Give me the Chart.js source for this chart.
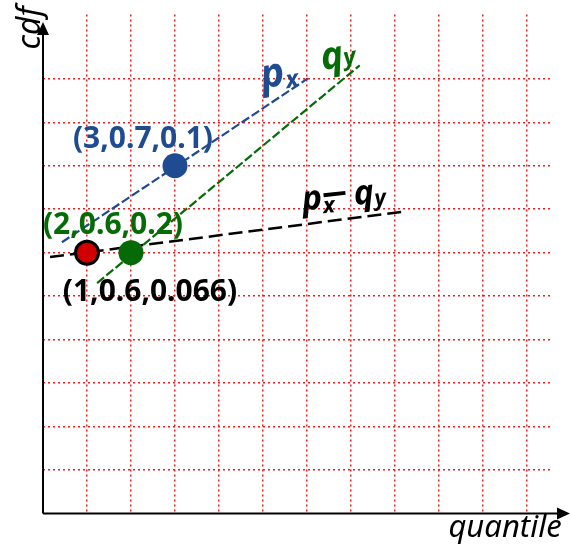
<!DOCTYPE html>
<html>
<head>
<meta charset="utf-8">
<script src="https://cdn.jsdelivr.net/npm/chart.js@4.4.1/dist/chart.umd.min.js"></script>
<style>
  html, body { margin: 0; padding: 0; background: #fff; }
  #wrap { width: 571px; height: 550px; position: relative; }
</style>
</head>
<body>
<div id="wrap"><canvas id="chart"></canvas></div>
<script>
// grid positions (in grid units)
const xGridLines = [1, 2, 3, 4, 5, 6, 7, 8, 9, 10, 11];
const yGridLines = [1, 2, 3, 4, 5, 6, 7, 8, 9, 10];

// lines: start / end points in grid units
const pxLine = [{ x: 0.43, y: 6.24 }, { x: 6.02, y: 10.01 }];
const qyLine = [{ x: 1.23, y: 5.30 }, { x: 7.20, y: 10.31 }];
const diffLine = [{ x: 0.16, y: 5.90 }, { x: 8.23, y: 6.95 }];

// the three marked points
const redPoint = [{ x: 1, y: 6 }];
const greenPoint = [{ x: 2, y: 6 }];
const bluePoint = [{ x: 3, y: 8 }];

const pointLabels = ["(1,0.6,0.066)", "(2,0.6,0.2)", "(3,0.7,0.1)"];

const BLUE = "#1f4b91";
const GREEN = "#066b06";
const RED = "#d00000";

function drawSub(ctx, parts, x, y, angle) {
  // parts: [{t, size, dx, dy, color}] or a bar {bar, w, h, dx, dy, color}
  ctx.save();
  ctx.translate(x, y);
  ctx.rotate(angle * Math.PI / 180);
  ctx.textBaseline = "alphabetic";
  ctx.textAlign = "left";
  let cx = 0;
  parts.forEach(p => {
    ctx.fillStyle = p.color;
    cx += (p.dx || 0);
    if (p.bar) {
      ctx.fillRect(cx, (p.dy || 0) - p.h / 2, p.w, p.h);
      cx += p.w;
      return;
    }
    ctx.font = "italic bold " + p.size + "px 'Noto Sans'";
    ctx.fillText(p.t, cx, p.dy || 0);
    cx += ctx.measureText(p.t).width;
  });
  ctx.restore();
}

const decorPlugin = {
  id: "decor",
  afterDatasetsDraw(chart) {
    const ctx = chart.ctx;
    const xs = chart.scales.x, ys = chart.scales.y;
    const x0 = xs.getPixelForValue(0), y0 = ys.getPixelForValue(0);

    // axes with arrows
    ctx.save();
    ctx.strokeStyle = "#000";
    ctx.fillStyle = "#000";
    ctx.lineWidth = 2;
    ctx.beginPath();
    ctx.moveTo(x0, y0);
    ctx.lineTo(559, y0);
    ctx.moveTo(x0, y0);
    ctx.lineTo(x0, 34);
    ctx.stroke();
    ctx.beginPath();
    ctx.moveTo(570, y0);
    ctx.lineTo(557, y0 - 6);
    ctx.lineTo(557, y0 + 6);
    ctx.closePath();
    ctx.fill();
    ctx.beginPath();
    ctx.moveTo(x0, 22);
    ctx.lineTo(x0 - 6, 35);
    ctx.lineTo(x0 + 6, 35);
    ctx.closePath();
    ctx.fill();

    // axis titles
    ctx.textAlign = "center";
    ctx.textBaseline = "middle";
    ctx.font = "italic 31px 'Noto Sans'";
    ctx.fillText("quantile", 505, 528);
    ctx.save();
    ctx.translate(31, 28);
    ctx.rotate(-Math.PI / 2);
    ctx.font = "italic 32px 'Noto Sans'";
    ctx.fillText("cdf", 0, 0);
    ctx.restore();

    // point labels
    ctx.font = "bold 30px 'Noto Sans'";
    const rp = { x: xs.getPixelForValue(redPoint[0].x), y: ys.getPixelForValue(redPoint[0].y) };
    const gp = { x: xs.getPixelForValue(greenPoint[0].x), y: ys.getPixelForValue(greenPoint[0].y) };
    const bp = { x: xs.getPixelForValue(bluePoint[0].x), y: ys.getPixelForValue(bluePoint[0].y) };
    ctx.fillStyle = "#000";
    ctx.fillText(pointLabels[0], rp.x + 63, rp.y + 40, 180);
    ctx.fillStyle = GREEN;
    ctx.fillText(pointLabels[1], gp.x - 18, gp.y - 27, 143);
    ctx.fillStyle = BLUE;
    ctx.fillText(pointLabels[2], bp.x - 32, bp.y - 26, 145);
    ctx.restore();

    // line labels
    const pe = { x: xs.getPixelForValue(pxLine[1].x), y: ys.getPixelForValue(pxLine[1].y) };
    drawSub(ctx, [
      { t: "p", size: 40, color: BLUE },
      { t: "x", size: 24, dy: 4, color: BLUE }
    ], pe.x - 45, pe.y + 10, -10);
    const qe = { x: xs.getPixelForValue(qyLine[1].x), y: ys.getPixelForValue(qyLine[1].y) };
    drawSub(ctx, [
      { t: "q", size: 38, color: GREEN },
      { t: "y", size: 24, dy: -1, color: GREEN }
    ], qe.x - 37, qe.y + 5, -10);
    const de = { x: xs.getPixelForValue(diffLine[1].x), y: ys.getPixelForValue(diffLine[1].y) };
    drawSub(ctx, [
      { t: "p", size: 34, color: "#000" },
      { t: "x", size: 22, dy: 5, color: "#000" },
      { bar: true, w: 22, h: 4, dx: -10, dy: -13, color: "#000" },
      { t: "q", size: 34, dx: 8, color: "#000" },
      { t: "y", size: 22, dy: 3, color: "#000" }
    ], de.x - 102, de.y - 1, -6);
  }
};

const lineDs = (data, color, dash, width) => ({
  data: data,
  showLine: true,
  borderColor: color,
  borderWidth: width,
  borderDash: dash,
  pointRadius: 0,
  order: 2
});
const dotDs = (data, color, border, radius, bw) => ({
  data: data,
  showLine: false,
  pointRadius: radius,
  pointHoverRadius: radius,
  pointBackgroundColor: color,
  pointBorderColor: border,
  pointBorderWidth: bw,
  order: 1
});

new Chart(document.getElementById("chart"), {
  type: "scatter",
  data: {
    datasets: [
      dotDs(redPoint, RED, "#000", 11.5, 3),
      dotDs(greenPoint, GREEN, GREEN, 12.5, 0),
      dotDs(bluePoint, BLUE, BLUE, 12.5, 0),
      lineDs(pxLine, BLUE, [9, 3], 2.2),
      lineDs(qyLine, GREEN, [9, 3], 2.2),
      lineDs(diffLine, "#000", [14, 6], 2.5)
    ]
  },
  options: {
    responsive: true,
    maintainAspectRatio: false,
    animation: false,
    layout: { padding: { left: 43, right: 19, top: 14, bottom: 36.5 } },
    plugins: { legend: { display: false }, tooltip: { enabled: false } },
    scales: {
      x: {
        type: "linear",
        min: 0,
        max: 11.57,
        afterBuildTicks: s => { s.ticks = xGridLines.map(v => ({ value: v })); },
        ticks: { display: false },
        grid: { color: "#ee1c1c", lineWidth: 1.5, drawTicks: false },
        border: { display: false, dash: [2, 3] }
      },
      y: {
        type: "linear",
        min: 0,
        max: 11.48,
        afterBuildTicks: s => { s.ticks = yGridLines.map(v => ({ value: v })); },
        ticks: { display: false },
        grid: { color: "#ee1c1c", lineWidth: 1.5, drawTicks: false },
        border: { display: false, dash: [2, 3] }
      }
    }
  },
  plugins: [decorPlugin]
});
</script>
</body>
</html>
